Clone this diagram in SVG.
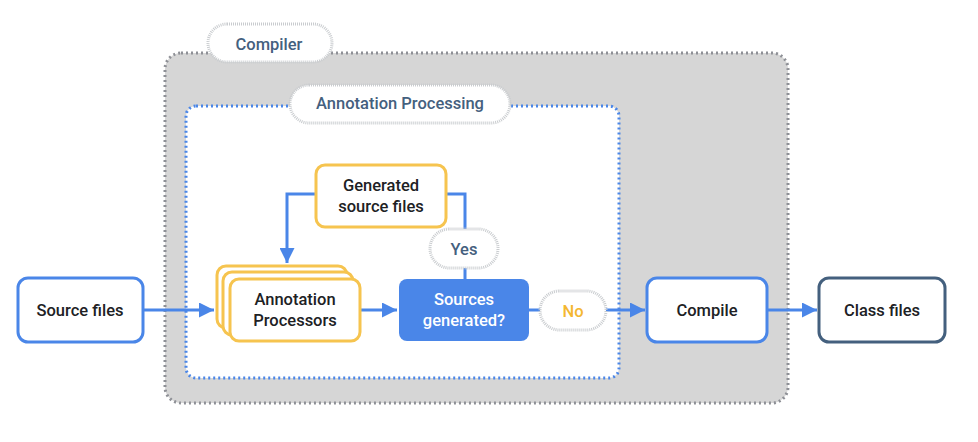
<svg xmlns="http://www.w3.org/2000/svg" width="978" height="442" viewBox="0 0 978 442">
<style>
text{font-family:Roboto,"Open Sans","Liberation Sans",sans-serif;font-size:16.5px;text-anchor:middle;dominant-baseline:central;fill:#202124;font-weight:500}
.lbl{fill:#44607e}
.pill{fill:#fff;stroke:#c9cccf;stroke-width:3;stroke-dasharray:1 1}
.y{fill:#fff;stroke:#f6c44f;stroke-width:3}
.b{fill:#fff;stroke:#4a86e8;stroke-width:3}
.c{fill:none;stroke:#4a86e8;stroke-width:3}
</style>
<defs>
<marker id="ah" viewBox="0 0 10 10" refX="10" refY="5" markerWidth="5" markerHeight="5" markerUnits="strokeWidth" orient="auto">
<path d="M0,0L10,5L0,10z" fill="#4a86e8"/>
</marker>
</defs>
<g id="compiler">
<rect x="165" y="53" width="623" height="350" rx="16" fill="#d6d6d6" stroke="#8e9096" stroke-width="3" stroke-dasharray="2 3"/>
<rect class="pill" x="208" y="24" width="124" height="38" rx="19"/>
<text class="lbl" x="269" y="44">Compiler</text>
</g>
<g id="annotation-processing">
<rect x="186" y="106" width="433" height="272" rx="10" fill="#fff" stroke="#4a86e8" stroke-width="3" stroke-dasharray="2 3"/>
<rect class="pill" x="290" y="85" width="220" height="38" rx="19"/>
<text class="lbl" x="400" y="103">Annotation Processing</text>
</g>
<g id="connectors">
<path class="c" d="M143,310H214" marker-end="url(#ah)"/>
<path class="c" d="M316,194H287V263" marker-end="url(#ah)"/>
<path class="c" d="M446,194H465V279"/>
<path class="c" d="M361,310H397" marker-end="url(#ah)"/>
<path class="c" d="M529,310H645" marker-end="url(#ah)"/>
<path class="c" d="M767,310H817" marker-end="url(#ah)"/>
</g>
<g id="source-files">
<rect class="b" x="18" y="278" width="125" height="64" rx="10"/>
<text x="80" y="310">Source files</text>
</g>
<g id="generated-source-files">
<rect class="y" x="316" y="165" width="130" height="62" rx="9"/>
<text x="381" y="185">Generated</text>
<text x="381" y="206">source files</text>
</g>
<g id="annotation-processors">
<rect class="y" x="217" y="266" width="130" height="62" rx="9"/>
<rect class="y" x="223" y="272" width="130" height="63" rx="9"/>
<rect class="y" x="230" y="279" width="130" height="62" rx="9"/>
<text x="295" y="299">Annotation</text>
<text x="295" y="320">Processors</text>
</g>
<g id="sources-generated">
<rect x="399" y="279" width="130" height="62" rx="8" fill="#4a86e8"/>
<text x="464" y="299" style="fill:#fff">Sources</text>
<text x="464" y="320" style="fill:#fff">generated?</text>
</g>
<g id="yes-label">
<rect class="pill" x="430" y="229" width="68" height="39" rx="19.5"/>
<text class="lbl" x="464" y="249">Yes</text>
</g>
<g id="no-label">
<rect class="pill" x="540" y="291" width="66" height="39" rx="19.5"/>
<text x="573" y="311" style="fill:#f4b731">No</text>
</g>
<g id="compile">
<rect class="b" x="647" y="278" width="120" height="64" rx="10"/>
<text x="707" y="310">Compile</text>
</g>
<g id="class-files">
<rect x="819" y="278" width="126" height="64" rx="10" fill="#fff" stroke="#44607e" stroke-width="3"/>
<text x="882" y="310">Class files</text>
</g>
</svg>
